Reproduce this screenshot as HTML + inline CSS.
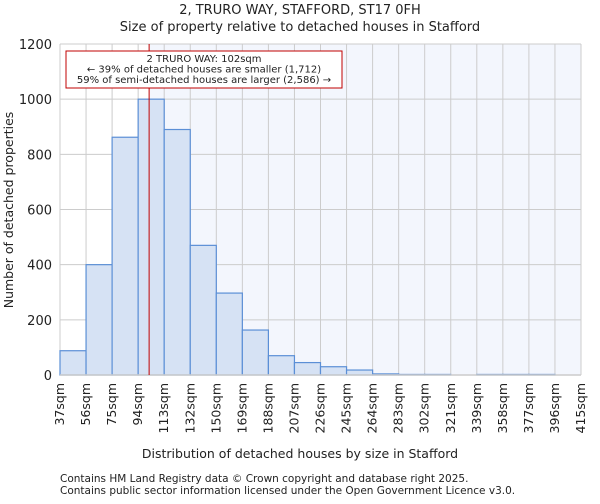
<!DOCTYPE html>
<html><head><meta charset="utf-8"><style>
body{margin:0;background:#fff;font-family:"DejaVu Sans","Liberation Sans",sans-serif;}
svg text{font-family:"DejaVu Sans","Liberation Sans",sans-serif;fill:#222;}
</style></head><body>
<svg id="chart" width="600" height="500">
<text x="300" y="14" font-size="13" text-anchor="middle">2, TRURO WAY, STAFFORD, ST17 0FH</text>
<text x="300" y="31" font-size="13" text-anchor="middle">Size of property relative to detached houses in Stafford</text>
<g id="plot"></g>
<text x="300" y="458" font-size="12.5" text-anchor="middle">Distribution of detached houses by size in Stafford</text>
<text transform="translate(13,210) rotate(-90)" font-size="12.5" text-anchor="middle">Number of detached properties</text>
<text x="60" y="482" font-size="10.5">Contains HM Land Registry data © Crown copyright and database right 2025.</text>
<text x="60" y="494" font-size="10.5">Contains public sector information licensed under the Open Government Licence v3.0.</text>
</svg>
<script>
const binLabels=["37sqm","56sqm","75sqm","94sqm","113sqm","132sqm","150sqm","169sqm","188sqm","207sqm","226sqm","245sqm","264sqm","283sqm","302sqm","321sqm","339sqm","358sqm","377sqm","396sqm","415sqm"];
const binStarts=[37,56,75,94,113,132,150,169,188,207,226,245,264,283,302,321,339,358,377,396,415];
const counts=[88,400,862,1000,890,470,297,163,70,45,30,18,4,2,2,0,2,2,2,0];
const yTicks=[0,200,400,600,800,1000,1200];
const propertySize=102;
const L=60,R=581,T=44,B=375,yMax=1200;
const n=counts.length,bw=(R-L)/n;
const y=v=>B-(v/yMax)*(B-T);
const xIdx=i=>L+i*bw;
function xVal(v){for(let i=0;i<n;i++){if(v>=binStarts[i]&&v<binStarts[i+1])return xIdx(i)+(v-binStarts[i])/(binStarts[i+1]-binStarts[i])*bw;}return R;}
const g=document.getElementById('plot');const NS="http://www.w3.org/2000/svg";
function mk(t,a,p){const e=document.createElementNS(NS,t);for(const k in a)e.setAttribute(k,a[k]);(p||g).appendChild(e);return e;}
const px=xVal(propertySize);
let e=mk('rect',{x:L,y:T,width:px-L,height:B-T,fill:'#ffffff'});

e=mk('rect',{x:px,y:T,width:R-px,height:B-T,fill:'#f3f6fd'});

yTicks.forEach(t=>{const l=mk('line',{x1:L,x2:R,y1:y(t),y2:y(t),stroke:'#cccccc'});

const tx=mk('text',{x:L-8,y:y(t)+5,'font-size':13,'text-anchor':'end'});tx.textContent=t;
});
for(let i=0;i<=n;i++){const l=mk('line',{x1:xIdx(i),x2:xIdx(i),y1:T,y2:B,stroke:'#cccccc'});
}
counts.forEach((c,i)=>{if(c<=0)return;const r=mk('rect',{x:xIdx(i),y:y(c),width:bw,height:B-y(c),fill:'#d6e2f4',stroke:'#5b8fd6','stroke-width':1.2});
});
e=mk('line',{x1:L,x2:R,y1:B,y2:B,stroke:'#cccccc','stroke-width':1.5});

binLabels.forEach((s,i)=>{const tx=mk('text',{transform:`translate(${xIdx(i)+4},${B+8}) rotate(-90)`,'font-size':12.5,'text-anchor':'end'});tx.textContent=s;
});
e=mk('line',{x1:px,x2:px,y1:T,y2:B,stroke:'#c00000','stroke-width':1});

e=mk('rect',{x:66,y:51,width:276,height:37,fill:'#fff',stroke:'#c00000','stroke-width':1});

["2 TRURO WAY: 102sqm","← 39% of detached houses are smaller (1,712)","59% of semi-detached houses are larger (2,586) →"].forEach((s,i)=>{
const tx=mk('text',{x:204,y:62+i*10.5,'font-size':10,'text-anchor':'middle'});tx.textContent=s;
});
</script>
</body></html>
